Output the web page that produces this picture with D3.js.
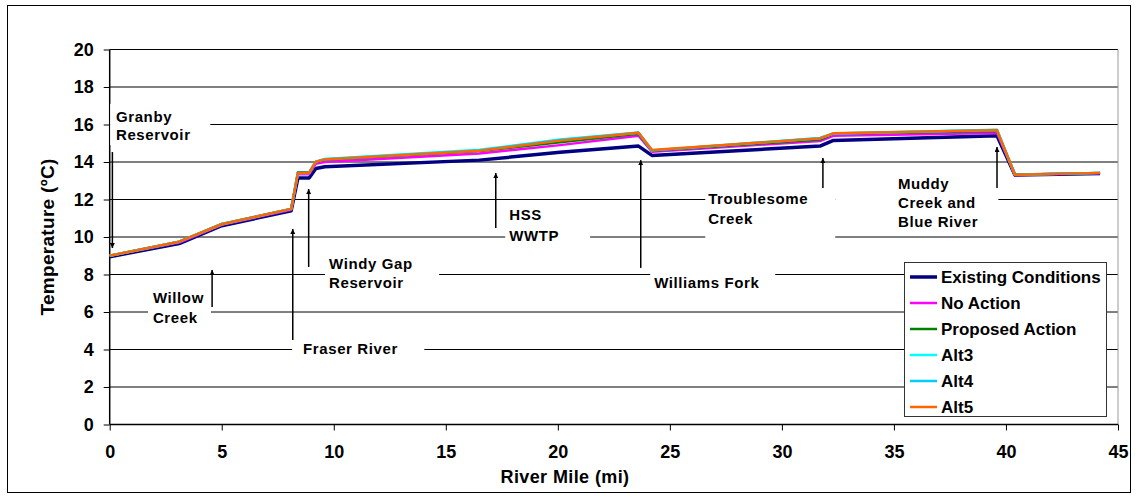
<!DOCTYPE html>
<html><head><meta charset="utf-8">
<script src="https://cdn.jsdelivr.net/npm/d3@7"></script>
<style>
body{margin:0;background:#fff}
text{font-family:"Liberation Sans",Arial,sans-serif;font-weight:bold;fill:#000}
</style></head>
<body><svg id="c" width="1138" height="499"></svg>
<script>
// ---- data ----
const riverMile = [0, 3.1, 5.0, 8.1, 8.4, 8.9, 9.2, 9.6, 16.5, 20.1, 23.6, 24.2, 31.7, 32.3, 39.6, 40.4, 44.2];
const existingConditions = [8.95, 9.65, 10.6, 11.4, 13.15, 13.15, 13.65, 13.75, 14.1, 14.52, 14.85, 14.35, 14.85, 15.15, 15.4, 13.3, 13.38];
const noAction = [9.0, 9.7, 10.65, 11.45, 13.35, 13.35, 13.9, 14.0, 14.45, 14.9, 15.4, 14.55, 15.12, 15.4, 15.55, 13.3, 13.4];
const proposedAction = [9.0, 9.75, 10.7, 11.5, 13.45, 13.45, 14.0, 14.12, 14.58, 15.05, 15.5, 14.6, 15.2, 15.5, 15.65, 13.32, 13.42];
const alt3 = [9.0, 9.75, 10.68, 11.5, 13.42, 13.42, 14.02, 14.16, 14.65, 15.2, 15.57, 14.62, 15.28, 15.52, 15.72, 13.32, 13.42];
const alt4 = [9.0, 9.75, 10.68, 11.5, 13.42, 13.42, 14.02, 14.15, 14.62, 15.17, 15.56, 14.62, 15.27, 15.52, 15.71, 13.32, 13.42];
const alt5 = [9.0, 9.75, 10.68, 11.5, 13.42, 13.42, 14.02, 14.14, 14.6, 15.14, 15.56, 14.64, 15.26, 15.53, 15.7, 13.32, 13.42];
const seriesNames = ["Existing Conditions", "No Action", "Proposed Action", "Alt3", "Alt4", "Alt5"];
const seriesValues = [existingConditions, noAction, proposedAction, alt3, alt4, alt5];
const seriesColors = ["#000080", "#FF00FF", "#008000", "#00FFFF", "#00CCFF", "#FF6600"];
const seriesWidths = [3.5, 2.5, 2.5, 2.5, 2.5, 2.5];
const yTicks = [0, 2, 4, 6, 8, 10, 12, 14, 16, 18, 20];
const xTicks = [0, 5, 10, 15, 20, 25, 30, 35, 40, 45];
const xTitle = "River Mile (mi)";
const yTitle = "Temperature (ºC)";
// annotations: label lines, text anchor (mi, degC), white box (mi0, mi1, t0, t1), arrow (mi, from, to)
const annotations = [
  {lines:["Granby","Reservoir"], tx:0.28, ty:[16.4,15.44], box:[0.02,4.49,14.9,17.1], ax:0.12, a0:14.53, a1:9.41},
  {lines:["Willow","Creek"], tx:1.93, ty:[6.75,5.68], box:[1.71,4.52,5.2,7.3], ax:4.57, a0:6.27, a1:8.24},
  {lines:["Fraser River"], tx:8.63, ty:[4.03], box:[8.14,14.04,3.5,4.6], ax:8.17, a0:4.51, a1:10.43},
  {lines:["Windy Gap","Reservoir"], tx:9.79, ty:[8.56,7.55], box:[9.61,14.7,7.0,9.2], ax:8.88, a0:8.4, a1:12.56},
  {lines:["HSS","WWTP"], tx:17.83, ty:[11.17,10.1], box:[17.65,21.44,9.5,11.7], ax:17.23, a0:10.48, a1:13.41},
  {lines:["Williams Fork"], tx:24.3, ty:[7.55], box:[24.12,29.7,7.0,8.3], ax:23.7, a0:8.35, a1:14.1},
  {lines:["Troublesome","Creek"], tx:26.71, ty:[12.03,10.96], box:[26.58,32.38,9.4,12.6], ax:31.83, a0:12.61, a1:14.21},
  {lines:["Muddy","Creek and","Blue River"], tx:35.18, ty:[12.83,11.81,10.8], box:[32.38,39.66,10.27,13.2], ax:39.6, a0:12.61, a1:14.8}
];

// ---- drawing ----
const svg = d3.select("#c");
const x = d3.scaleLinear().domain([0, 45]).range([109.7, 1118]);
const y = d3.scaleLinear().domain([0, 20]).range([424.5, 49.5]);

// outer chart border
svg.append("rect").attr("x",7.5).attr("y",5.5).attr("width",1123).attr("height",487)
  .attr("fill","#fff").attr("stroke","#000").attr("stroke-width",1);

// gridlines
svg.append("g").selectAll("line").data(yTicks.filter(d=>d>0)).join("line")
  .attr("x1",x(0)).attr("x2",x(45)).attr("y1",d=>y(d)).attr("y2",d=>y(d))
  .attr("stroke","#000").attr("stroke-width",1);
// right plot border (gray)
svg.append("line").attr("x1",x(45)).attr("x2",x(45)).attr("y1",y(20)).attr("y2",y(0))
  .attr("stroke","#999").attr("stroke-width",1);

// axes
const yAxis = svg.append("g").attr("transform",`translate(${x(0)},0)`)
  .call(d3.axisLeft(y).tickValues(yTicks).tickSize(6).tickPadding(10).tickFormat(d3.format("d")));
const xAxis = svg.append("g").attr("transform",`translate(0,${y(0)})`)
  .call(d3.axisBottom(x).tickValues(xTicks).tickSize(6).tickPadding(15).tickFormat(d3.format("d")));
[yAxis,xAxis].forEach(g=>{
  g.select(".domain").attr("stroke","#000").attr("stroke-width",1.5);
  g.selectAll(".tick line").attr("stroke","#000");
  g.selectAll(".tick text").style("font-size","18px").style("font-family","'Liberation Sans',Arial,sans-serif").style("font-weight","bold").attr("fill","#000");
});
xAxis.select(".domain").attr("d",`M${x(0)},0H${x(45)}`);
yAxis.select(".domain").attr("d",`M0,${y(0)}V${y(20)}`);

// axis titles
svg.append("text").attr("x",565).attr("y",483).attr("text-anchor","middle")
  .style("font-size","18px").style("letter-spacing","0.4px").text(xTitle);
svg.append("text").attr("transform","translate(54,237) rotate(-90)").attr("text-anchor","middle")
  .style("font-size","19px").style("letter-spacing","0.3px").text(yTitle);

// arrow marker
const defs = svg.append("defs");
defs.append("marker").attr("id","ah").attr("viewBox","0 0 10 10").attr("refX",10).attr("refY",5)
  .attr("markerWidth",5).attr("markerHeight",5).attr("markerUnits","userSpaceOnUse").attr("orient","auto")
  .append("path").attr("d","M0,0L10,5L0,10z").attr("fill","#000");

// annotations
const ag = svg.append("g");
annotations.forEach(a=>{
  ag.append("rect").attr("x",x(a.box[0])).attr("width",x(a.box[1])-x(a.box[0]))
    .attr("y",y(a.box[3])).attr("height",y(a.box[2])-y(a.box[3])).attr("fill","#fff");
  a.lines.forEach((t,i)=>{
    ag.append("text").attr("x",x(a.tx)).attr("y",y(a.ty[i])).attr("dy","0.36em")
      .style("font-size","15px").style("letter-spacing","0.6px").text(t);
  });
  ag.append("line").attr("x1",x(a.ax)).attr("x2",x(a.ax)).attr("y1",y(a.a0)).attr("y2",y(a.a1))
    .attr("stroke","#000").attr("stroke-width",1.5).attr("marker-end","url(#ah)");
});

// series lines
const line = d3.line().x((d,i)=>x(riverMile[i])).y(d=>y(d));
svg.append("g").selectAll("path").data(seriesValues).join("path")
  .attr("d",d=>line(d)).attr("fill","none")
  .attr("stroke",(d,i)=>seriesColors[i]).attr("stroke-width",(d,i)=>seriesWidths[i])
  .attr("stroke-linejoin","round");

// legend
const lg = svg.append("g");
lg.append("rect").attr("x",904.5).attr("y",262.5).attr("width",202).attr("height",154)
  .attr("fill","#fff").attr("stroke","#333").attr("stroke-width",1);
seriesNames.forEach((n,i)=>{
  const yy = 277 + i*26;
  lg.append("line").attr("x1",910).attr("x2",937).attr("y1",yy).attr("y2",yy)
    .attr("stroke",seriesColors[i]).attr("stroke-width",i===0?3.5:2.5);
  lg.append("text").attr("x",941).attr("y",yy).attr("dy","0.36em").style("font-size","17px").text(n);
});
</script></body></html>
